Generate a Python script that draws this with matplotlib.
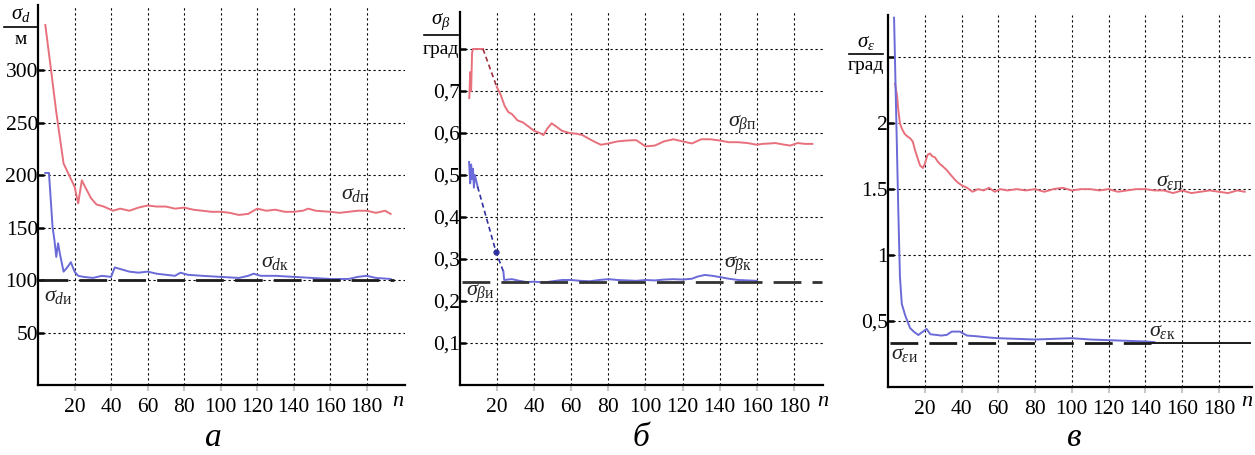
import matplotlib.pyplot as plt

plt.rcParams['font.family'] = ['Liberation Serif', 'DejaVu Serif']
plt.rcParams['mathtext.fontset'] = 'custom'
plt.rcParams['mathtext.rm'] = 'Liberation Serif'
plt.rcParams['mathtext.it'] = 'Liberation Serif:italic'

RED = '#e8707c'
BLUE = '#6a6ad8'
DARK = '#1a1a1a'

# --- panel a: range error, m ---
a_n_red = [4, 7, 10, 14, 17, 20, 22, 24, 26, 29, 32, 36, 41, 45, 50, 55, 60, 65, 70, 75,
           80, 85, 90, 95, 100, 105, 110, 115, 120, 125, 130, 135, 140, 145, 148, 152, 160,
           165, 170, 175, 180, 185, 190, 193]
a_red = [343, 302, 260, 211, 200, 189, 173, 195, 188, 178, 172, 170, 166, 168, 166, 169, 171,
         170, 170, 168, 169, 167, 166, 165, 165, 164, 162, 163, 168, 166, 167, 165, 165, 166,
         168, 166, 165, 164, 165, 166, 166, 164, 166, 163]
a_n_blue = [4, 6, 8, 9, 10, 11, 12, 14, 16, 18, 20, 22, 25, 30, 35, 40, 42, 46, 50, 55, 60,
            65, 70, 75, 78, 82, 90, 100, 110, 115, 118, 122, 130, 140, 150, 160, 170, 175,
            180, 185, 193]
a_blue = [202, 202, 150, 138, 122, 135, 125, 108, 112, 117, 108, 104, 103, 102, 104, 103, 112,
          110, 108, 107, 108, 106, 105, 104, 107, 105, 104, 103, 102, 104, 106, 104, 104, 103,
          102, 101, 101, 103, 104, 102, 101]
a_level = 100
a_yticks = [50, 100, 150, 200, 250, 300]
a_ylabels = ['50', '100', '150', '200', '250', '300']

# --- panel b: bearing error, deg ---
b_n_red = [5, 5.5, 6, 6.5, 7, 9, 12.4,
           19.8, 22, 24, 26, 28, 31, 34, 37, 40, 43, 45, 47, 49.4, 52, 55, 59, 63, 66, 70, 73,
           76, 80, 85, 90, 95, 100, 105, 110, 115, 120, 125, 130, 135, 140, 145, 150, 155,
           160, 163, 167, 170, 175, 178, 182, 186, 190]
b_red = [0.683, 0.745, 0.70, 0.79, 0.80, 0.80, 0.80,
         0.71, 0.69, 0.665, 0.65, 0.645, 0.63, 0.625, 0.615, 0.605, 0.60, 0.595, 0.61, 0.623,
         0.615, 0.605, 0.60, 0.598, 0.595, 0.585, 0.578, 0.572, 0.575, 0.58, 0.582, 0.583,
         0.568, 0.57, 0.58, 0.585, 0.58, 0.575, 0.585, 0.585, 0.582, 0.578, 0.578, 0.576,
         0.572, 0.574, 0.575, 0.576, 0.572, 0.57, 0.576, 0.574, 0.574]
b_red_gap = 6
b_n_blue = [4.9, 5.5, 6, 6.5, 7, 7.5, 8, 9.5, 19.4,
            23.4, 23.8, 28, 32, 36, 40, 45, 50, 55, 60, 65, 70, 75, 80, 85, 90, 95, 100, 105,
            110, 115, 120, 125, 128, 132, 136, 140, 145, 150, 155, 160]
b_blue = [0.531, 0.48, 0.525, 0.49, 0.515, 0.47, 0.50, 0.472, 0.317,
          0.27, 0.25, 0.252, 0.248, 0.245, 0.246, 0.244, 0.247, 0.25, 0.25, 0.248, 0.247,
          0.25, 0.252, 0.25, 0.249, 0.248, 0.25, 0.249, 0.251, 0.252, 0.251, 0.253, 0.258,
          0.262, 0.26, 0.257, 0.253, 0.25, 0.249, 0.248]
b_blue_gap = (7, 9)
b_level = 0.245
b_yticks = [0.1, 0.2, 0.3, 0.4, 0.5, 0.6, 0.7, 0.8]
b_ylabels = ['0,1', '0,2', '0,3', '0,4', '0,5', '0,6', '0,7', '']

# --- panel c: elevation error, deg ---
c_n_red = [3.8, 5, 5.6, 6.5, 7.5, 9, 10.5, 12, 13.5, 14.7, 16, 17.4, 19, 20, 21.5, 22.9, 24,
           25.6, 27, 28.3, 30, 32, 34, 36.5, 38, 40, 43, 46, 49, 52, 55, 58, 61, 65, 70, 75,
           80, 85, 90, 95, 100, 105, 110, 115, 120, 125, 130, 135, 140, 145, 150, 155, 160,
           165, 170, 175, 180, 185, 190, 194]
c_red = [2.30, 2.2, 2.10, 2.0, 1.96, 1.92, 1.90, 1.886, 1.86, 1.795, 1.74, 1.68, 1.66, 1.69,
         1.76, 1.77, 1.75, 1.74, 1.71, 1.69, 1.67, 1.644, 1.61, 1.57, 1.55, 1.53, 1.51, 1.48,
         1.50, 1.49, 1.51, 1.48, 1.50, 1.49, 1.50, 1.49, 1.50, 1.48, 1.50, 1.51, 1.49, 1.50,
         1.50, 1.49, 1.50, 1.48, 1.49, 1.50, 1.50, 1.49, 1.49, 1.47, 1.49, 1.47, 1.48, 1.49,
         1.48, 1.47, 1.49, 1.48]
c_n_blue = [3.3, 4.4, 5.6, 6.5, 7.5, 9.3, 12, 14, 16.5, 18, 20, 21, 23, 26, 29, 32, 34.7, 39,
            43, 48, 55, 60, 70, 80, 90, 100, 110, 120, 130, 140, 145]
c_blue = [2.80, 2.10, 1.34, 0.835, 0.63, 0.545, 0.447, 0.42, 0.394, 0.41, 0.43, 0.44, 0.40,
          0.395, 0.39, 0.395, 0.42, 0.42, 0.39, 0.385, 0.375, 0.37, 0.365, 0.36, 0.365, 0.37,
          0.36, 0.355, 0.35, 0.345, 0.34]
c_level = 0.333
c_yticks = [0.5, 1, 1.5, 2, 2.5]
c_ylabels = ['0,5', '1', '1.5', '2', '']

xticks = [20, 40, 60, 80, 100, 120, 140, 160, 180]

W, H = 1255, 455
fig = plt.figure(figsize=(W / 100, H / 100), dpi=100)


def px_axes(left, top, right, bottom):
    return fig.add_axes([left / W, 1 - bottom / H, (right - left) / W, (bottom - top) / H])


def style(ax, xmax, ymax, yticks, ylabels):
    ax.set_xlim(0, xmax)
    ax.set_ylim(0, ymax)
    ax.set_xticks(xticks)
    ax.set_yticks(yticks)
    ax.set_yticklabels(ylabels)
    for s in ['top', 'right']:
        ax.spines[s].set_visible(False)
    for s in ['left', 'bottom']:
        ax.spines[s].set_linewidth(1.6)
    ax.grid(True, color='black', linestyle=(0, (2, 2.5)), linewidth=0.8)
    ax.tick_params(axis='x', length=4, width=1.5, color='#c8c8c8', labelsize=15.5, pad=5)
    ax.tick_params(axis='y', length=4, width=1.8, direction='in', labelsize=15.5, pad=0)


def sub(ax, x, y, sym, name, size=16):
    ax.text(x, y, r'$\sigma_{%s\mathrm{%s}}$' % (sym, name), fontsize=size,
            color='#222222', ha='center', va='center')


# panel a
ax = px_axes(38, 5, 405, 385)
style(ax, 200.9, 362, a_yticks, a_ylabels)
ax.plot(a_n_red, a_red, color=RED, lw=1.4)
ax.plot(a_n_blue, a_blue, color=BLUE, lw=1.4)
ax.plot([1, 195], [a_level, a_level], color=DARK, lw=2, dashes=(10, 4))
sub(ax, 174, 181, 'd', 'п')
sub(ax, 130, 117, 'd', 'к')
sub(ax, 11, 84, 'd', 'и')

# panel b
ax = px_axes(460, 12, 823, 385)
style(ax, 195.7, 0.888, b_yticks, b_ylabels)
g = b_red_gap
ax.plot(b_n_red[:g + 1], b_red[:g + 1], color=RED, lw=1.4)
ax.plot(b_n_red[g:g + 2], b_red[g:g + 2], color='#a03040', lw=1.2, dashes=(3, 2))
ax.plot(b_n_red[g + 1:], b_red[g + 1:], color=RED, lw=1.4)
g0, g1 = b_blue_gap
ax.plot(b_n_blue[:g0 + 1], b_blue[:g0 + 1], color=BLUE, lw=1.4)
ax.plot(b_n_blue[g0:g1 + 1], b_blue[g0:g1 + 1], color='#3030a0', lw=1.2, dashes=(3, 2))
ax.plot(b_n_blue[g1 - 1], b_blue[g1 - 1], 'o', color='#3030a0', ms=3.5)
ax.plot(b_n_blue[g1:], b_blue[g1:], color=BLUE, lw=1.4)
ax.plot([1, 195], [b_level, b_level], color='#333333', lw=2, dashes=(10, 4))
sub(ax, 152, 0.62, 'β', 'п')
sub(ax, 150, 0.283, 'β', 'к')
sub(ax, 11, 0.217, 'β', 'и')

# panel c
ax = px_axes(888, 15, 1252, 387)
style(ax, 198, 2.82, c_yticks, c_ylabels)
ax.plot(c_n_red, c_red, color=RED, lw=1.4)
ax.plot(c_n_blue, c_blue, color=BLUE, lw=1.4)
ax.plot([1, 143], [c_level, c_level], color=DARK, lw=2, dashes=(10, 4))
ax.plot([143, 197], [c_level, c_level], color=DARK, lw=1.4)
sub(ax, 153, 1.56, 'ε', 'п')
sub(ax, 149, 0.42, 'ε', 'к')
sub(ax, 9, 0.25, 'ε', 'и')

# axis units as fractions and panel captions
for x, ys, sym, unit in [(21, (15, 27, 39), 'd', 'м'),
                         (441, (22, 35, 49), 'β', 'град'),
                         (866, (42, 54, 66), 'ε', 'град')]:
    fig.text(x / W, 1 - ys[0] / H, r'$\sigma_{%s}$' % sym, fontsize=15,
             ha='center', va='center')
    fig.add_artist(plt.Line2D([(x - 17) / W, (x + 17) / W], [1 - ys[1] / H] * 2,
                              color='black', lw=1.2))
    fig.text(x / W, 1 - ys[2] / H, unit, fontsize=14, ha='center', va='center')

for x in [398, 823, 1247]:
    fig.text(x / W, 1 - 402 / H, 'n', fontsize=16, style='italic', ha='center', va='center')

for x, letter in [(213, 'а'), (641, 'б'), (1074, 'в')]:
    fig.text(x / W, 1 - 438 / H, letter, fontsize=24, style='italic', ha='center',
             va='center')

fig.savefig('out.png', dpi=100, facecolor='white')
